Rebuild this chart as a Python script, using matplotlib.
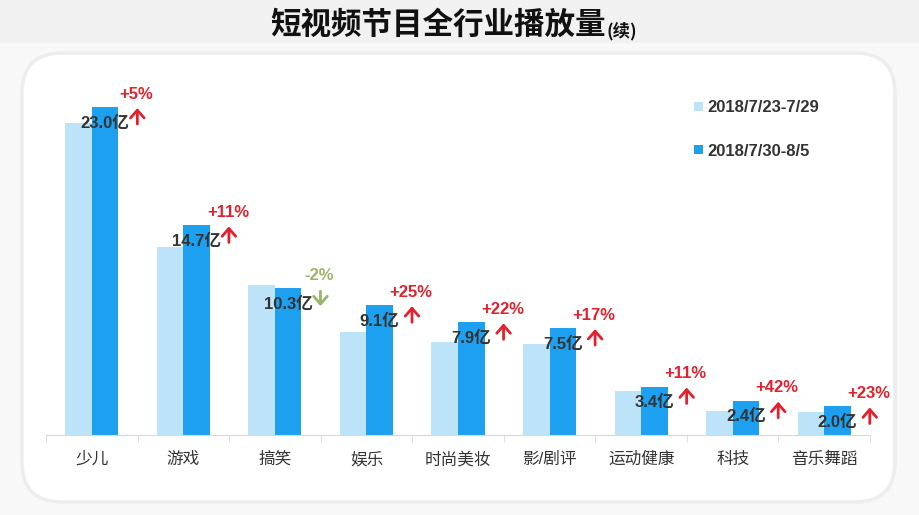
import numpy as np
import matplotlib
matplotlib.use('Agg')
import matplotlib.pyplot as plt
from matplotlib.patches import Rectangle, FancyBboxPatch
from matplotlib.transforms import offset_copy

plt.rcParams['font.family'] = ['Liberation Sans', 'Noto Sans CJK SC', 'DejaVu Sans']

# Данные (млрд просмотров, "亿")
categories = ['少儿', '游戏', '搞笑', '娱乐', '时尚美妆', '影/剧评', '运动健康', '科技', '音乐舞蹈']
week1 = [21.9, 13.2, 10.5, 7.2, 6.5, 6.4, 3.1, 1.7, 1.6]
week2 = [23.0, 14.7, 10.3, 9.1, 7.9, 7.5, 3.4, 2.4, 2.0]
week2_labels = ['23.0亿', '14.7亿', '10.3亿', '9.1亿', '7.9亿', '7.5亿', '3.4亿', '2.4亿', '2.0亿']
changes = ['+5%', '+11%', '-2%', '+25%', '+22%', '+17%', '+11%', '+42%', '+23%']
legend_labels = ['2018/7/23-7/29', '2018/7/30-8/5']

light_blue = '#bde3f8'
dark_blue = '#1ea0f0'
red = '#e3202b'
green = '#9ab56b'
text_col = '#333333'

fig = plt.figure(figsize=(9.2, 5.15), dpi=100, facecolor='#f8f8f9')

# фон: серая полоса сверху и панель со скруглёнными углами
bg = fig.add_axes([0, 0, 1, 1])
bg.set_xlim(0, 920)
bg.set_ylim(515, 0)
bg.axis('off')
bg.add_patch(Rectangle((0, 0), 920, 43, color='#f1f1f1', lw=0))
bg.add_patch(FancyBboxPatch((22, 53), 873, 449, boxstyle='round,pad=0,rounding_size=40',
                            facecolor='white', edgecolor='#ededef', lw=2.5))
bg.text(438, 25, '短视频节目全行业播放量', ha='center', va='center', fontsize=22,
        weight='bold', family='Noto Sans CJK SC', color='#111111')
bg.text(607, 31, '(续)', ha='left', va='center', fontsize=12.5,
        weight='bold', family='Noto Sans CJK SC', color='#111111')

ax = fig.add_axes([46 / 920, 80 / 515, 824 / 920, 365 / 515])
ax.patch.set_alpha(0)
x = np.arange(len(categories))
w = 0.29
ax.bar(x - w / 2, week1, w, color=light_blue, label=legend_labels[0])
ax.bar(x + w / 2, week2, w, color=dark_blue, label=legend_labels[1])
ax.set_xlim(-0.5, len(categories) - 0.5)
ax.set_ylim(0, 25.6)

for s in ['top', 'right', 'left']:
    ax.spines[s].set_visible(False)
ax.spines['bottom'].set_color('#d9d9d9')
ax.set_yticks([])
ax.set_xticks(x, categories)
ax.set_xticks(np.arange(-0.5, len(categories), 1), minor=True)
ax.tick_params(axis='x', which='major', length=0, pad=12, labelsize=12, colors=text_col)
ax.tick_params(axis='x', which='minor', length=5, color='#d9d9d9')

# подписи значений и изменений
for i, (v, lab, ch) in enumerate(zip(week2, week2_labels, changes)):
    ax.annotate(lab, (i + w / 2, v), xytext=(0, -16), textcoords='offset pixels',
                ha='center', va='center', fontsize=12, weight='bold', color=text_col)
    up = ch.startswith('+')
    col = red if up else green
    ax.annotate(ch, (i + w, v), xytext=(18, 13), textcoords='offset pixels',
                ha='center', va='center', fontsize=12, weight='bold', color=col)
    if up:
        tip = offset_copy(ax.transData, fig, x=19, y=-1, units='dots')
        tail = (0, -16)
    else:
        tip = offset_copy(ax.transData, fig, x=19, y=-18, units='dots')
        tail = (0, 15)
    ax.annotate('', xy=(i + w, v), xycoords=tip, xytext=tail, textcoords='offset pixels',
                arrowprops=dict(arrowstyle='->,head_width=0.35,head_length=0.4',
                                color=col, lw=2, shrinkA=0, shrinkB=0, mutation_scale=14))

leg = ax.legend(loc='upper left', bbox_to_anchor=(686 / 920, 1 - 92 / 515),
                bbox_transform=fig.transFigure, frameon=False, borderpad=0,
                handlelength=0.5, handleheight=0.5, handletextpad=0.3,
                labelspacing=1.7, prop={'weight': 'bold', 'size': 12}, labelcolor=text_col)

fig.savefig('out.png', dpi=100, facecolor=fig.get_facecolor())
